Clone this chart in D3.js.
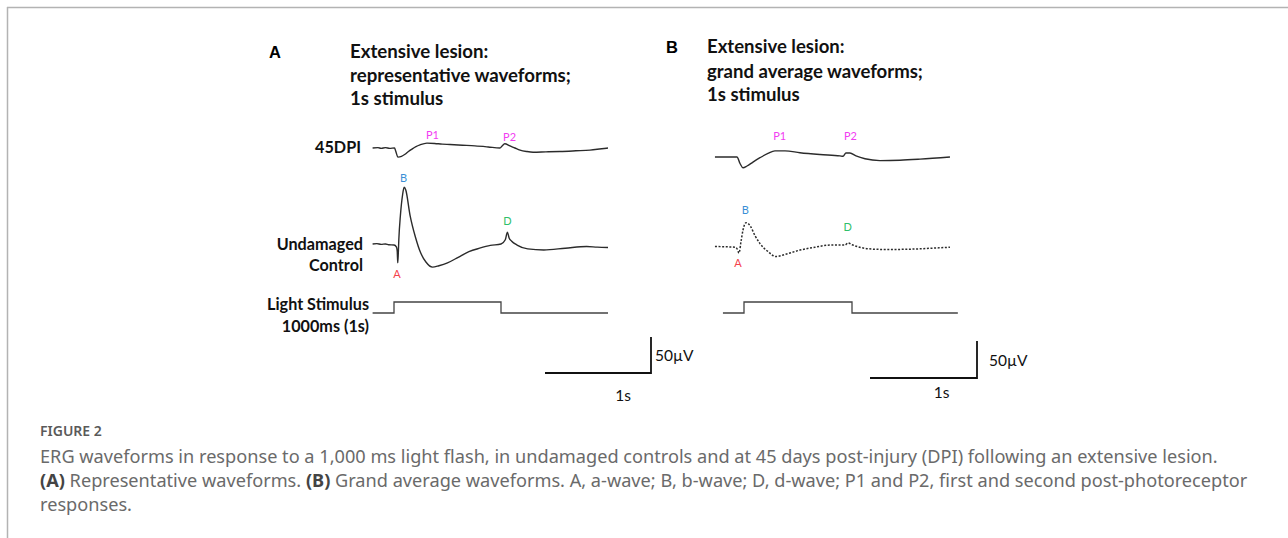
<!DOCTYPE html>
<html>
<head>
<meta charset="utf-8">
<script src="https://cdn.jsdelivr.net/npm/d3@7/dist/d3.min.js"></script>
<style>
  html, body { margin: 0; padding: 0; background: #fff; }
  svg { display: block; }
</style>
</head>
<body>
<svg id="chart" width="1288" height="538"></svg>
<script>
// ---------------- DATA ----------------
// time in ms relative to stimulus onset, amplitude in µV relative to trace baseline
const panelLabels = ["A", "B"];
const titleA = ["Extensive lesion:", "representative waveforms;", "1s stimulus"];
const titleB = ["Extensive lesion:", "grand average waveforms;", "1s stimulus"];
const rowLabelsA = { dpi: ["45DPI"], control: ["Undamaged", "Control"], stim: ["Light Stimulus", "1000ms (1s)"] };
const scaleLabels = { v: "50\u00B5V", t: "1s" };
const scaleBar = { ms: 1000, uv: 50 };

// Light stimulus: [time ms, on(1)/off(0)]
const stimulus = [[-200, 0], [0, 0], [0, 1], [1000, 1], [1000, 0], [2000, 0]];
const stimulusB = [[-195, 0], [0, 0], [0, 1], [1000, 1], [1000, 0], [1980, 0]];

// Panel A – representative waveforms
const a45dpi = [
  [-200, 0], [-150, 0.5], [-120, -0.5], [-80, 0.5], [-40, -0.5], [5, 0], [15, -4], [37, -13], [70, -12], [103, -9], [135, -5],
  [168, -1.5], [205, 2], [243, 4.5], [308, 7], [380, 6.5], [450, 5.5], [523, 5], [640, 4],
  [757, 3], [880, 1.5], [990, 0], [1010, 3], [1035, 6], [1084, 3], [1130, 0], [1178, -3],
  [1240, -5], [1300, -6], [1420, -5.5], [1551, -5], [1700, -4], [1832, -3], [1920, -1.5], [2000, 0]
];
const aControl = [
  [-200, 0], [-160, 0.5], [-120, -0.5], [-80, 0], [-50, -1], [0, -1.5], [22, -4], [30, -10], [35, -27], [40, -14],
  [45, 6], [60, 41], [80, 70], [95, 81], [110, 77], [150, 41], [200, 10], [250, -13], [300, -26],
  [360, -33], [420, -31], [500, -27], [600, -19], [700, -11], [800, -6], [900, -2], [1000, 0],
  [1040, 6], [1060, 17], [1075, 9], [1100, 4], [1150, -1.5], [1250, -7], [1400, -8.5],
  [1600, -6], [1800, -3.5], [1900, -4.5], [2000, -5]
];

// Panel B – grand average waveforms
const b45dpi = [
  [-269, 0], [-150, 0], [-65, 0], [-37, -9], [-9, -15], [28, -12.5], [83, -7], [148, -1],
  [222, 5], [287, 8.5], [380, 8.5], [518, 6], [704, 3.5], [889, 1.5], [917, 1], [944, 5.5],
  [981, 5.5], [1037, 1.5], [1120, -2.5], [1259, -5], [1444, -4.5], [1630, -3], [1907, 0]
];
const bControl = [
  [-269, 0], [-150, -0.5], [-83, -1], [-65, -3], [-46, -9], [-28, 6.5], [-9, 23], [19, 33],
  [56, 29], [102, 15], [148, 4], [222, -7], [296, -14], [380, -11], [518, -5], [657, -1],
  [796, 2], [935, 2], [963, 5], [1000, 2.5], [1120, -2.5], [1259, -4], [1444, -4],
  [1722, -2.5], [1907, -1]
];

// Wave markers: [label, time ms, amplitude µV at label centre]
const markersA45 = [["P1", 360, 17], ["P2", 1080, 14]];
const markersACtl = [["B", 90, 93], ["A", 28, -44], ["D", 1060, 31]];
const markersB45 = [["P1", 330, 28], ["P2", 985, 28]];
const markersBCtl = [["B", 12, 49], ["A", -55, -24], ["D", 960, 26]];

const captionTitle = "FIGURE 2";
const captionLines = [
  "ERG waveforms in response to a 1,000 ms light flash, in undamaged controls and at 45 days post-injury (DPI) following an extensive lesion.",
  [["(A)", true], [" Representative waveforms. ", false], ["(B)", true], [" Grand average waveforms. A, a-wave; B, b-wave; D, d-wave; P1 and P2, first and second post-photoreceptor", false]],
  "responses."
];

// ---------------- DRAW ----------------
const svg = d3.select("#chart");
const markerColor = { P1: "#f23cf2", P2: "#f23cf2", A: "#f5424b", B: "#3b8fd6", D: "#2fbf6a" };
const traceColor = "#2b2b2b";
const titleFont = "Lato, 'Open Sans', sans-serif";

// fit a text element's font-size so that it spans the given width
function fitWidth(sel, base, target) {
  const w = sel.node().getComputedTextLength();
  const fs = base * target / w;
  sel.attr("font-size", fs);
  return fs;
}

// frame
svg.append("line").attr("x1", 7).attr("x2", 1288).attr("y1", 7.5).attr("y2", 7.5)
  .attr("stroke", "#b3b3b3").attr("stroke-width", 1.5);
svg.append("line").attr("x1", 7.5).attr("x2", 7.5).attr("y1", 7).attr("y2", 538)
  .attr("stroke", "#b3b3b3").attr("stroke-width", 1.5);

function drawPanel(cfg) {
  const x = d3.scaleLinear().domain([0, scaleBar.ms]).range([cfg.onset, cfg.onset + cfg.pxPerSec]);
  const yFor = base => d3.scaleLinear().domain([0, scaleBar.uv]).range([base, base - cfg.pxPer50]);
  const g = svg.append("g");

  // panel letter
  g.append("text").attr("x", cfg.letterX).attr("y", cfg.titleY[0])
    .attr("font-family", "'Liberation Sans', Arial, sans-serif").attr("font-weight", 700)
    .attr("font-size", 16.5).attr("fill", "#000").text(cfg.letter);
  // title
  const tl = cfg.title.map((t, i) => g.append("text").attr("x", cfg.titleX).attr("y", cfg.titleY[i])
      .attr("font-family", titleFont).attr("font-weight", 700).attr("font-size", 16)
      .attr("fill", "#111").text(t));
  const fs = fitWidth(tl[1], 16, cfg.titleW);
  tl.forEach(t => t.attr("font-size", fs));

  const line = ys => d3.line().x(d => x(d[0])).y(d => ys(d[1])).curve(d3.curveMonotoneX);

  // 45 DPI trace
  const y45 = yFor(cfg.base45);
  g.append("path").datum(cfg.dpi).attr("d", line(y45)).attr("fill", "none")
    .attr("stroke", traceColor).attr("stroke-width", 1.4).attr("stroke-linejoin", "round");
  cfg.m45.forEach(m => g.append("text").attr("x", x(m[1])).attr("y", y45(m[2]))
    .attr("text-anchor", "middle").attr("dominant-baseline", "middle")
    .attr("font-family", titleFont).attr("font-size", 11).attr("fill", markerColor[m[0]]).text(m[0]));

  // Control trace
  const yC = yFor(cfg.baseCtl);
  g.append("path").datum(cfg.ctl).attr("d", line(yC)).attr("fill", "none")
    .attr("stroke", traceColor).attr("stroke-width", cfg.dotted ? 1.5 : 1.4)
    .attr("stroke-dasharray", cfg.dotted ? "2,1.6" : null).attr("stroke-linejoin", "round");
  cfg.mC.forEach(m => g.append("text").attr("x", x(m[1])).attr("y", yC(m[2]))
    .attr("text-anchor", "middle").attr("dominant-baseline", "middle")
    .attr("font-family", titleFont).attr("font-size", 11).attr("fill", markerColor[m[0]]).text(m[0]));

  // stimulus
  const yS = d3.scaleLinear().domain([0, 1]).range([cfg.stimBase, cfg.stimBase - 11]);
  g.append("path").datum(cfg.stim)
    .attr("d", d3.line().x(d => x(d[0])).y(d => yS(d[1])))
    .attr("fill", "none").attr("stroke", "#444").attr("stroke-width", 1.3);

  // scale bar
  const sbX = cfg.sbRight, sbY = cfg.sbY;
  const xs = d3.scaleLinear().domain([0, scaleBar.ms]).range([sbX - cfg.pxPerSec + 1, sbX]);
  const ys = d3.scaleLinear().domain([0, scaleBar.uv]).range([sbY, sbY - cfg.pxPer50 - 1]);
  g.append("path")
    .attr("d", d3.line()([[xs(0), ys(0)], [xs(scaleBar.ms), ys(0)], [xs(scaleBar.ms), ys(scaleBar.uv)]]))
    .attr("fill", "none").attr("stroke", "#111").attr("stroke-width", 1.8);
  g.append("text").attr("x", sbX + cfg.vLabelDx).attr("y", sbY - 12)
    .attr("font-family", "Lato, 'Open Sans', sans-serif").attr("font-size", 15.5).attr("fill", "#111")
    .text(scaleLabels.v);
  g.append("text").attr("x", (xs(0) + xs(scaleBar.ms)) / 2 + cfg.tLabelDx).attr("y", sbY + cfg.tLabelDy)
    .attr("text-anchor", "middle")
    .attr("font-family", "Lato, 'Open Sans', sans-serif").attr("font-size", 15.5).attr("fill", "#111")
    .text(scaleLabels.t);
}

drawPanel({
  letter: panelLabels[0], letterX: 269, title: titleA, titleX: 350, titleY: [58, 82, 105], titleW: 221,
  onset: 394, pxPerSec: 107, pxPer50: 35,
  base45: 148, baseCtl: 244, stimBase: 313,
  dpi: a45dpi, ctl: aControl, stim: stimulus, m45: markersA45, mC: markersACtl, dotted: false,
  sbRight: 651, sbY: 373, vLabelDx: 4, tLabelDx: 25, tLabelDy: 28
});
drawPanel({
  letter: panelLabels[1], letterX: 666, title: titleB, titleX: 707, titleY: [53, 78, 101], titleW: 216,
  onset: 744, pxPerSec: 108, pxPer50: 36,
  base45: 157, baseCtl: 246.5, stimBase: 313,
  dpi: b45dpi, ctl: bControl, stim: stimulusB, m45: markersB45, mC: markersBCtl, dotted: true,
  sbRight: 977, sbY: 378, vLabelDx: 12, tLabelDx: 18, tLabelDy: 20
});

// row labels (panel A)
const rowFont = "Lato, 'Open Sans', sans-serif";
const rowFs = 16.2;
function rowLabel(lines, xRight, ys) {
  lines.forEach((t, i) => svg.append("text").attr("x", xRight).attr("y", ys[i])
    .attr("text-anchor", "end").attr("font-family", rowFont).attr("font-weight", 700)
    .attr("font-size", rowFs).attr("fill", "#111").text(t));
}
rowLabel(rowLabelsA.dpi, 361, [153]);
rowLabel(rowLabelsA.control, 363, [249.5, 271]);
rowLabel(rowLabelsA.stim, 369, [309.5, 331.5]);

// caption
const cap = svg.append("g").attr("font-family", "'Noto Sans', 'Open Sans', sans-serif");
cap.append("text").attr("x", 40).attr("y", 436).attr("font-size", 14).attr("font-weight", 600)
  .attr("fill", "#5a5a5a").text(captionTitle);
const capTexts = captionLines.map((ln, i) => {
  const t = cap.append("text").attr("x", 40).attr("y", 463 + i * 24).attr("font-size", 17)
    .attr("fill", "#6a6a6a");
  if (typeof ln === "string") t.text(ln);
  else ln.forEach(seg => t.append("tspan").attr("font-weight", seg[1] ? 700 : 400)
    .attr("fill", seg[1] ? "#444" : "#6a6a6a").text(seg[0]));
  return t;
});
const capFs = fitWidth(capTexts[0], 17, 1178);
capTexts.forEach(t => t.attr("font-size", capFs));
</script>
</body>
</html>
